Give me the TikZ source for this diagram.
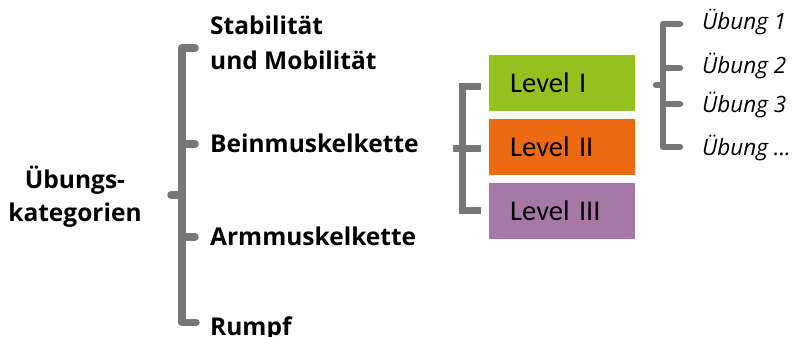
\documentclass[tikz,border=0pt]{standalone}
\usepackage{fontspec}
\setmainfont{Open Sans}
\newfontfamily\levelfont{Carlito}
\definecolor{brgray}{HTML}{777777}
\definecolor{lvgreen}{HTML}{95C11F}
\definecolor{lvorange}{HTML}{EC6A12}
\definecolor{lvpurple}{HTML}{A777A5}
\begin{document}
\begin{tikzpicture}[x=1pt,y=-1pt,
  cat/.style={font=\fontsize{24.5}{35}\selectfont\bfseries, inner sep=0pt, anchor=base west},
  root/.style={font=\fontsize{24.5}{33}\selectfont\bfseries, inner sep=0pt, align=center, anchor=base},
  ex/.style={font=\fontsize{22.5}{25}\selectfont\itshape, inner sep=0pt, anchor=base west},
  lvbox/.style={font=\levelfont\fontsize{28.5}{30}\selectfont, anchor=north west, minimum width=146pt, minimum height=56pt,
     text width=104pt, align=left, inner xsep=21pt, inner ysep=0pt, text height=18pt, text depth=0pt},
  brk/.style={draw=brgray, line width=7.5pt, line cap=round, line join=round},
  brkl/.style={draw=brgray, line width=7pt, line cap=butt, line join=miter},
  brku/.style={draw=brgray, line width=6.5pt, line cap=round, line join=round}]
\useasboundingbox (0,0) rectangle (804,337);

% root
\node[root] (root) at (75,221) {Übungs-\\kategorien};

% categories
\node[cat, align=left] (stab) at (210,70) {Stabilität\\und Mobilität};
\node[cat] (bein) at (210,153) {Beinmuskelkette};
\node[cat] (arm) at (210,245) {Armmuskelkette};
\node[cat] (rumpf) at (210,335) {Rumpf};

% left bracket
\coordinate (a0) at (171,195);
\coordinate (as) at (182,195);
\coordinate (a1) at (182,48);
\coordinate (a2) at (182,144);
\coordinate (a3) at (182,237);
\coordinate (a4) at (182,322.5);
\draw[brk] (195,48) -- (a1) -- (a4) -- (196,322.5);
\draw[brk] (a2) -- (195,144);
\draw[brk] (a3) -- (195,237);
\draw[brk] (a0) -- (as);

% levels
\node[lvbox, fill=lvgreen] (l1) at (489,55) {Level I};
\node[lvbox, fill=lvorange] (l2) at (489,119) {Level II};
\node[lvbox, fill=lvpurple] (l3) at (489,183) {Level III};

% level bracket
\coordinate (b1) at (462.5,86.7);
\coordinate (b2) at (462.5,148.7);
\coordinate (b3) at (462.5,210);
\draw[brkl] (480.7,86.7) -- (b1) -- (b3) -- (480.7,210);
\draw[brkl] (453,148.7) -- (480.7,148.7);

% exercises
\node[ex] (u1) at (702,30) {Übung 1};
\node[ex] (u2) at (702,74) {Übung 2};
\node[ex] (u3) at (702,113) {Übung 3};
\node[ex] (u4) at (702,155) {Übung ...};

% exercise bracket
\coordinate (c1) at (663,24);
\coordinate (c2) at (663,68);
\coordinate (c3) at (663,104);
\coordinate (c4) at (663,147);
\draw[brku] (680,24) -- (c1) -- (c4) -- (680,147);
\draw[brku] (c2) -- (680,68);
\draw[brku] (c3) -- (680,104);
\draw[brku] (656,85) -- (663,85);
\end{tikzpicture}
\end{document}
